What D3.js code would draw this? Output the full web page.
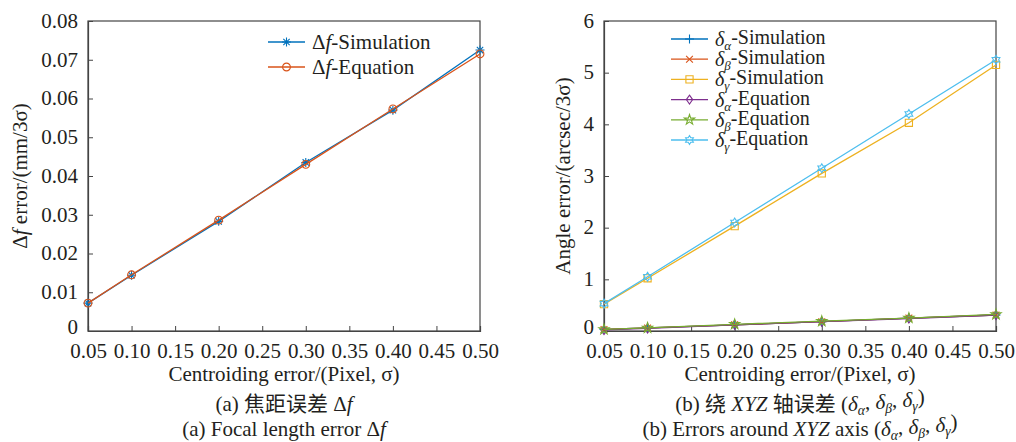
<!DOCTYPE html>
<html><head><meta charset="utf-8">
<script src="https://cdn.jsdelivr.net/npm/d3@7"></script>
<style>
body{margin:0;background:#fff;}
text{font-family:"Liberation Serif","Noto Sans CJK SC",serif;fill:#231f20;}
</style></head>
<body><svg id="c" width="1016" height="442"></svg>
<script>
const xVals = [0.05, 0.10, 0.20, 0.30, 0.40, 0.50];
const xTicks = [0.05,0.10,0.15,0.20,0.25,0.30,0.35,0.40,0.45,0.50];
const leftYTicks = [0,0.01,0.02,0.03,0.04,0.05,0.06,0.07,0.08];
const rightYTicks = [0,1,2,3,4,5,6];

const dfSim = [0.0072, 0.0144, 0.0283, 0.0435, 0.0570, 0.0725];
const dfEq  = [0.0072, 0.0145, 0.0286, 0.0430, 0.0573, 0.0715];

const daSim = [0.03, 0.06, 0.12, 0.18, 0.25, 0.31];
const dbSim = [0.03, 0.06, 0.12, 0.18, 0.25, 0.31];
const dgSim = [0.52, 1.02, 2.03, 3.05, 4.03, 5.15];
const daEq  = [0.02, 0.05, 0.12, 0.18, 0.24, 0.31];
const dbEq  = [0.03, 0.06, 0.13, 0.19, 0.25, 0.32];
const dgEq  = [0.53, 1.05, 2.10, 3.15, 4.20, 5.25];

const C = {blue:"#0072BD", red:"#D95319", yellow:"#EDB120", purple:"#7E2F8E", green:"#77AC30", cyan:"#4DBEEE"};

const svg = d3.select("#c");

function markerPath(type, s){
  const r = s/2;
  switch(type){
    case "asterisk": {
      let p="";
      for(let i=0;i<4;i++){const a=i*Math.PI/4;const dx=r*Math.cos(a),dy=r*Math.sin(a);p+=`M${-dx},${-dy}L${dx},${dy}`;}
      return p;}
    case "plus": return `M${-r},0L${r},0M0,${-r}L0,${r}`;
    case "x": {const q=r*0.75;return `M${-q},${-q}L${q},${q}M${-q},${q}L${q},${-q}`;}
    case "circle": return d3.symbol(d3.symbolCircle, Math.PI*r*r*0.75)();
    case "square": {const q=r*0.8;return `M${-q},${-q}H${q}V${q}H${-q}Z`;}
    case "diamond": return `M0,${-r}L${r*0.7},0L0,${r}L${-r*0.7},0Z`;
    case "pentagram": return d3.symbol(d3.symbolStar, r*r*1.6)();
    case "hexagram": {
      let pts=[];for(let i=0;i<12;i++){const a=-Math.PI/2+i*Math.PI/6;const rr=i%2?r*0.58:r;pts.push([rr*Math.cos(a),rr*Math.sin(a)]);}
      return "M"+pts.map(p=>p.join(",")).join("L")+"Z";}
  }
}

function drawPanel(o){
  const g = svg.append("g");
  const x = d3.scaleLinear().domain([0.05,0.5]).range([o.x0,o.x1]);
  const y = d3.scaleLinear().domain(o.ydom).range([o.y1,o.y0]);
  g.append("rect").attr("x",o.x0).attr("y",o.y0).attr("width",o.x1-o.x0).attr("height",o.y1-o.y0)
    .attr("fill","none").attr("stroke","#444").attr("stroke-width",1.2);
  const xa = g.append("g").attr("transform",`translate(0,${o.y1})`)
    .call(d3.axisBottom(x).tickValues(xTicks).tickFormat(d3.format(".2f")).tickSize(-5).tickPadding(12));
  const ya = g.append("g").attr("transform",`translate(${o.x0},0)`)
    .call(d3.axisLeft(y).tickValues(o.yticks).tickFormat(o.yfmt).tickSize(-5).tickPadding(10));
  [xa,ya].forEach(a=>{
    a.select(".domain").attr("stroke","#444").attr("stroke-width",1.2);
    a.selectAll(".tick line").attr("stroke","#444");
    a.selectAll(".tick text").style("font-family","Liberation Serif").attr("font-size",21).attr("fill","#231f20");
  });
  ya.selectAll(".tick text").attr("dy",d=>d===0?"0.12em":"0.3em");
  o.series.forEach(s=>{
    const line = d3.line().x((d,i)=>x(xVals[i])).y(d=>y(d));
    g.append("path").datum(s.v).attr("d",line).attr("fill","none").attr("stroke",s.c).attr("stroke-width",1.3);
    g.selectAll(null).data(s.v).enter().append("path")
      .attr("transform",(d,i)=>`translate(${x(xVals[i])},${y(d)})`)
      .attr("d",markerPath(s.m,9)).attr("fill","none").attr("stroke",s.c).attr("stroke-width",1.1);
  });
  o.series.forEach((s,i)=>{
    const ly = o.ly + i*o.ldy;
    g.append("line").attr("x1",o.lx).attr("x2",o.lx+37).attr("y1",ly).attr("y2",ly).attr("stroke",s.c).attr("stroke-width",1.3);
    g.append("path").attr("transform",`translate(${o.lx+18.5},${ly})`).attr("d",markerPath(s.m,9))
      .attr("fill","none").attr("stroke",s.c).attr("stroke-width",1.1);
    const t = g.append("text").attr("x",o.lx+44).attr("y",ly).attr("dy","0.35em").attr("font-size",o.lfs);
    s.label(t);
  });
  g.append("text").attr("x",(o.x0+o.x1)/2).attr("y",381).attr("text-anchor","middle").attr("font-size",21)
    .text("Centroiding error/(Pixel, σ)");
  const yl = g.append("text").attr("transform",`translate(${o.ylx},${(o.y0+o.y1)/2}) rotate(-90)`)
    .attr("text-anchor","middle").attr("dy","0.35em").attr("font-size",21);
  o.ylabel(yl);
  const c1 = g.append("text").attr("x",(o.x0+o.x1)/2).attr("y",411).attr("text-anchor","middle").attr("font-size",21);
  o.cap1(c1);
  const c2 = g.append("text").attr("x",(o.x0+o.x1)/2).attr("y",436).attr("text-anchor","middle").attr("font-size",21);
  o.cap2(c2);
}

function deltaF(t){ t.append("tspan").text("Δ"); t.append("tspan").attr("font-style","italic").text("f"); }
function delta(t, sub){ t.append("tspan").attr("font-style","italic").text("δ");
  t.append("tspan").attr("font-style","italic").attr("font-size","0.65em").attr("dy","0.3em").text(sub);
  return t; }

drawPanel({
  x0:88, x1:480, y0:21, y1:331, ydom:[0,0.08], yticks:leftYTicks,
  yfmt:d=>d===0?"0":d3.format(".2f")(d),
  series:[
    {v:dfSim,c:C.blue,m:"asterisk",label:t=>{deltaF(t);t.append("tspan").text("-Simulation");}},
    {v:dfEq,c:C.red,m:"circle",label:t=>{deltaF(t);t.append("tspan").text("-Equation");}}
  ],
  lx:268, ly:42, ldy:25, lfs:21, ylx:20,
  ylabel:t=>{deltaF(t);t.append("tspan").text(" error/(mm/3σ)");},
  cap1:t=>{t.append("tspan").text("(a) 焦距误差 ");deltaF(t);},
  cap2:t=>{t.append("tspan").text("(a) Focal length error ");deltaF(t);}
});

function dl(sub,rest){return t=>{delta(t,sub);t.append("tspan").attr("dy","-0.3em").text(rest);};}
drawPanel({
  x0:604, x1:996, y0:21, y1:331, ydom:[0,6], yticks:rightYTicks, yfmt:d3.format("d"),
  series:[
    {v:daSim,c:C.blue,m:"plus",label:dl("α","-Simulation")},
    {v:dbSim,c:C.red,m:"x",label:dl("β","-Simulation")},
    {v:dgSim,c:C.yellow,m:"square",label:dl("γ","-Simulation")},
    {v:daEq,c:C.purple,m:"diamond",label:dl("α","-Equation")},
    {v:dbEq,c:C.green,m:"pentagram",label:dl("β","-Equation")},
    {v:dgEq,c:C.cyan,m:"hexagram",label:dl("γ","-Equation")}
  ],
  lx:671, ly:39, ldy:20.2, lfs:20, ylx:563,
  ylabel:t=>{t.text("Angle error/(arcsec/3σ)");},
  cap1:t=>{t.append("tspan").text("(b) 绕 ");t.append("tspan").attr("font-style","italic").text("XYZ");
    t.append("tspan").text(" 轴误差 (");delta(t,"α");t.append("tspan").attr("dy","-0.3em").text(", ");
    delta(t,"β");t.append("tspan").attr("dy","-0.3em").text(", ");delta(t,"γ");t.append("tspan").attr("dy","-0.3em").text(")");},
  cap2:t=>{t.append("tspan").text("(b) Errors around ");t.append("tspan").attr("font-style","italic").text("XYZ");
    t.append("tspan").text(" axis (");delta(t,"α");t.append("tspan").attr("dy","-0.3em").text(", ");
    delta(t,"β");t.append("tspan").attr("dy","-0.3em").text(", ");delta(t,"γ");t.append("tspan").attr("dy","-0.3em").text(")");}
});
</script></body></html>
